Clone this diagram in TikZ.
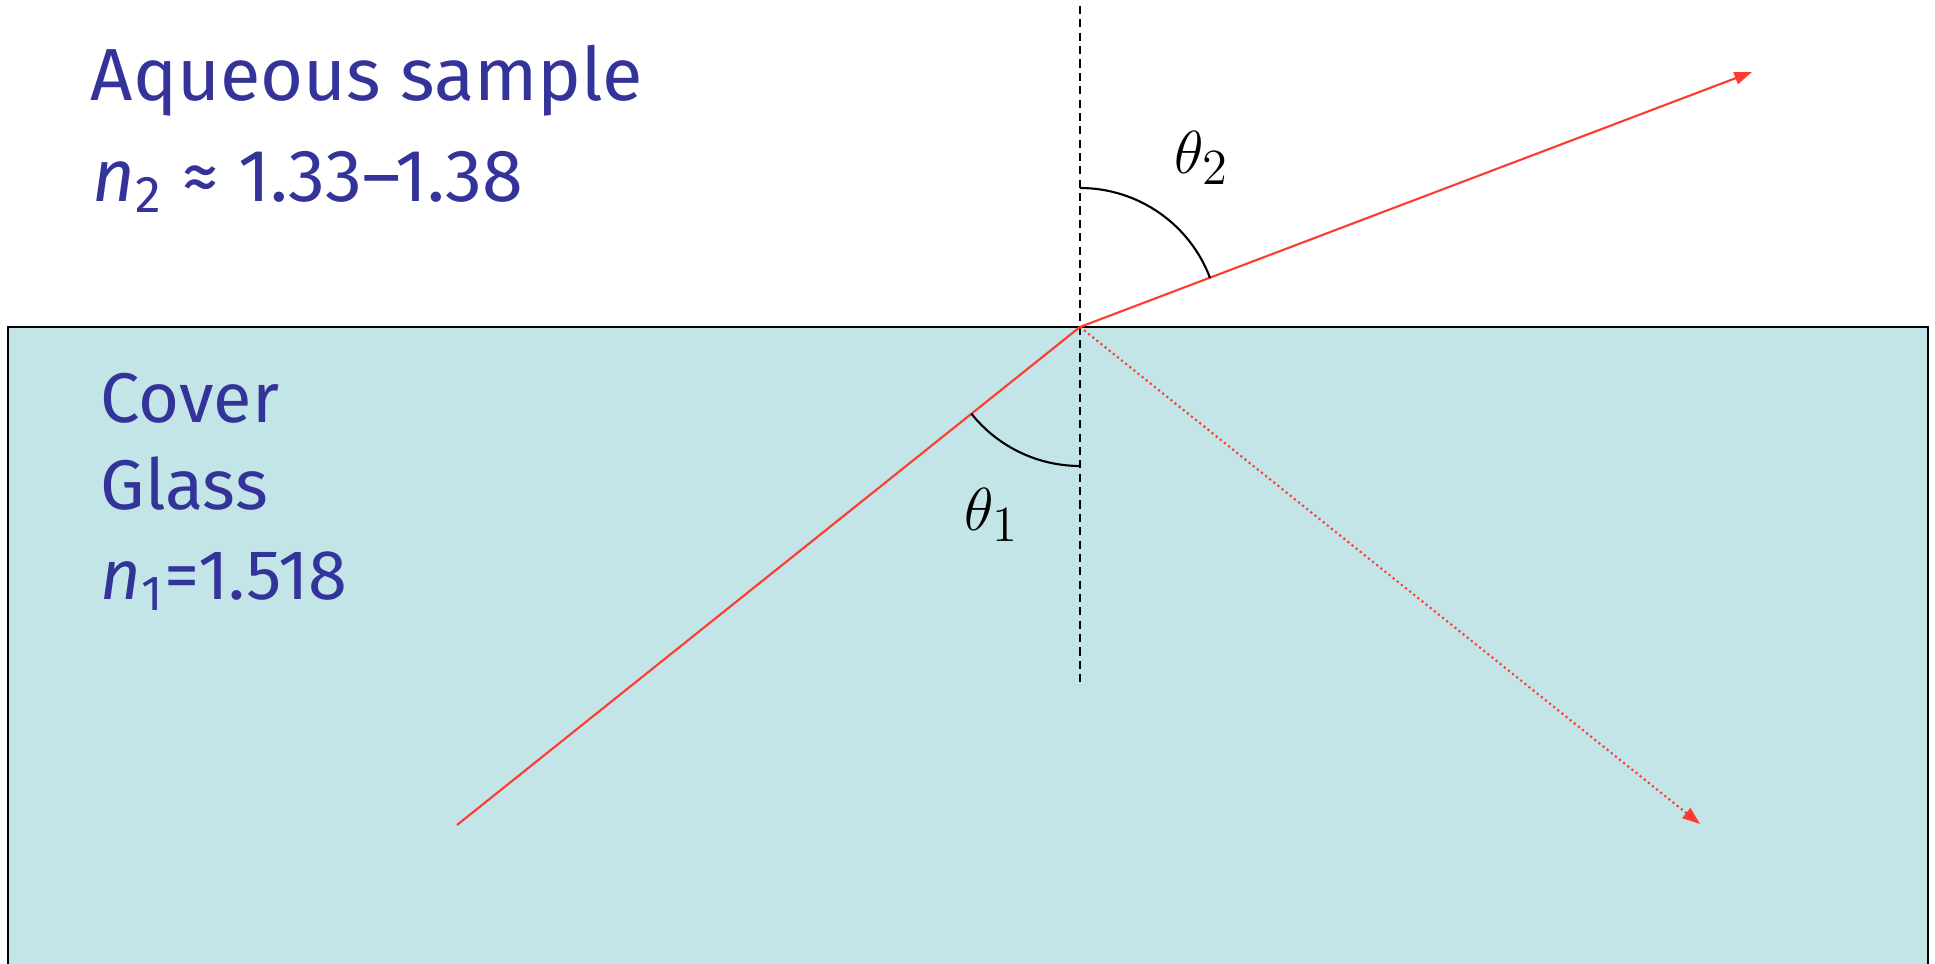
\documentclass[tikz,border=0pt]{standalone}
\usepackage{fontspec}
\setmainfont{Fira Sans}
\usetikzlibrary{arrows.meta,calc}
\definecolor{cChuXanh}{HTML}{333399}
\definecolor{cNenKinh}{HTML}{C4E5E8}
\definecolor{cTiaDo}{HTML}{FF3B30}
\def\Lsample{Aqueous sample}
\def\Lntwo{{\itshape n}\textsubscript{2} ≈ 1.33--1.38}
\def\Lcover{Cover}
\def\Lglass{Glass}
\def\Lnone{{\itshape n}\textsubscript{1}=1.518}

\begin{document}
\begin{tikzpicture}[
  x=0.01cm, y=0.01cm,
  tiado/.style={draw=cTiaDo, line width=0.6pt},
  muiten/.style={-{Triangle[length=5pt, width=3.6pt]}},
  chuxanh/.style={anchor=base west, inner sep=0pt, text=cChuXanh},
  chuto/.style={chuxanh, font=\fontsize{21}{25}\selectfont},
  chunho/.style={chuxanh, font=\fontsize{20}{24}\selectfont},
  goc/.style={draw=black, line width=0.6pt},
  nhangoc/.style={inner sep=0pt, font=\fontsize{19}{22}\selectfont}
]
\useasboundingbox (0,0) rectangle (1935,964);

% ── Lop kinh: nen xanh, vien tren va hai ben ──
\fill[cNenKinh] (8,0) rectangle (1928,637);
\draw[line width=0.6pt] (8,0) -- (8,637) -- (1928,637) -- (1928,0);

% ── Cac diem cua tia sang ──
\coordinate (O)    at (1080,637);
\coordinate (nguon) at (457,139);
\coordinate (khuc) at (1752,892);
\coordinate (phan) at (1700,140);
\coordinate (ntren) at (1080,958);
\coordinate (nduoi) at (1080,277);

% Phap tuyen net dut
\draw[line width=0.6pt, dash pattern=on 2.3pt off 1.5pt] (ntren) -- (nduoi);

% Ba tia do
\draw[tiado] (nguon) -- (O);
\draw[tiado, muiten] (O) -- (khuc);
\draw[tiado, muiten, dash pattern=on 0.6pt off 0.9pt] (O) -- (phan);

% ── Hai cung goc ──
\draw[goc] ($(O)+(90:139)$) arc[start angle=90, end angle=20.6, radius=139];
\draw[goc] ($(O)+(270:139)$) arc[start angle=270, end angle=218.6, radius=139];
\node[nhangoc] (t2) at (1202,806) {$\theta_2$};
\node[nhangoc] (t1) at (992,449) {$\theta_1$};

% ── Chu ──
\node[chuto]  (sample) at (90,863) {\Lsample};
\node[chuto]  (ntwo)   at (92,762) {\Lntwo};
\node[chunho] (cover)  at (100,541) {\Lcover};
\node[chunho] (glass)  at (100,454) {\Lglass};
\node[chunho] (none)   at (100,364) {\Lnone};

\end{tikzpicture}
\end{document}
